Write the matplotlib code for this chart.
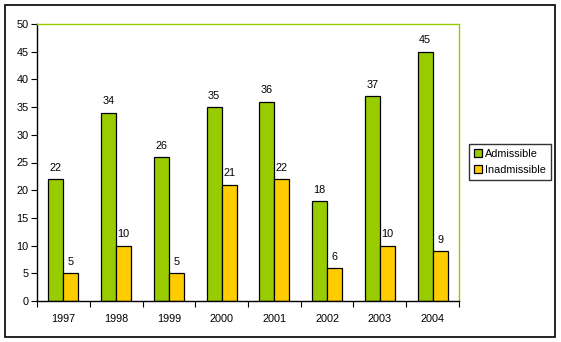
import matplotlib
matplotlib.use("Agg")
import matplotlib.pyplot as plt
import numpy as np
from matplotlib.patches import Rectangle

years = ["1997", "1998", "1999", "2000", "2001", "2002", "2003", "2004"]
admissible = [22, 34, 26, 35, 36, 18, 37, 45]
inadmissible = [5, 10, 5, 21, 22, 6, 10, 9]
yticks = list(range(0, 55, 5))

green = "#99CC00"
yellow = "#FFCC00"

plt.rcParams['font.family'] = ['Liberation Sans', 'DejaVu Sans']
FS = 7.8
W, H = 561, 342
fig = plt.figure(figsize=(W / 100, H / 100), dpi=100)
fig.patches.append(Rectangle((5 / W, 1 - 337 / H), 550 / W, 332 / H,
                             transform=fig.transFigure, fill=False,
                             edgecolor="black", linewidth=1.2))

ax = fig.add_axes([37 / W, 1 - 301 / H, (459 - 37) / W, (301 - 24) / H])
x = np.arange(len(years))
bw = 0.285
b1 = ax.bar(x - bw / 2, admissible, bw, color=green, edgecolor="black", linewidth=0.9, label="Admissible")
b2 = ax.bar(x + bw / 2, inadmissible, bw, color=yellow, edgecolor="black", linewidth=0.9, label="Inadmissible")
for bars, vals in ((b1, admissible), (b2, inadmissible)):
    for r, v in zip(bars, vals):
        ax.annotate(str(v), (r.get_x() + r.get_width() / 2, v), xytext=(0, 4.5),
                    textcoords="offset points", ha="center", va="bottom", fontsize=FS)

ax.set_xlim(-0.5, len(years) - 0.5)
ax.set_ylim(0, 50)
ax.set_yticks(yticks)
ax.tick_params(axis="y", labelsize=FS, length=4, width=0.8, pad=2)
ax.set_xticks(x)
ax.set_xticklabels(years)
ax.tick_params(axis="x", which="major", length=0, labelsize=FS, pad=9)
ax.set_xticks(np.arange(-0.5, len(years)), minor=True)
ax.tick_params(axis="x", which="minor", length=4, width=0.8)
for s in ("left", "bottom"):
    ax.spines[s].set_color("black")
    ax.spines[s].set_linewidth(1)
for s in ("top", "right"):
    ax.spines[s].set_color(green)
    ax.spines[s].set_linewidth(1)

leg = fig.legend(loc="upper left", bbox_to_anchor=(469 / W, 1 - 144 / H),
                 frameon=True, fancybox=False, fontsize=FS, handlelength=0.75,
                 handleheight=0.75, handletextpad=0.3, borderpad=0.45,
                 labelspacing=0.55, borderaxespad=0)
leg.get_frame().set_edgecolor("black")
leg.get_frame().set_linewidth(1)

fig.savefig("out.png", dpi=100)
